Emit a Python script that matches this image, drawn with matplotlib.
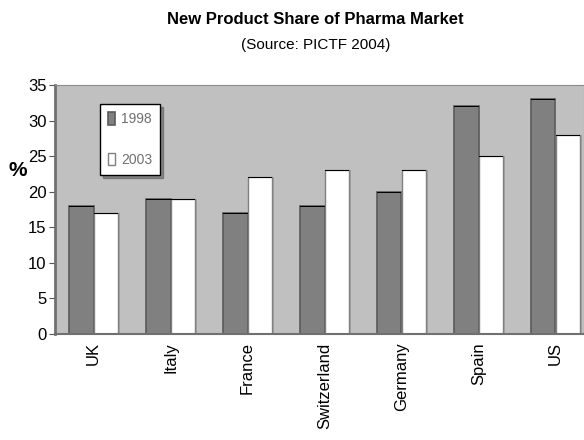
import matplotlib

matplotlib.use("Agg")
import matplotlib.pyplot as plt
import numpy as np

countries = ["UK", "Italy", "France", "Switzerland", "Germany", "Spain", "US"]
share_1998 = [18, 19, 17, 18, 20, 32, 33]
share_2003 = [17, 19, 22, 23, 23, 25, 28]
years = ["1998", "2003"]

plt.rcParams["font.family"] = ["Liberation Sans", "DejaVu Sans"]

fig = plt.figure(figsize=(5.84, 4.40), dpi=100)
ax = fig.add_axes([55 / 584, 1 - 334 / 440, 1 - 55 / 584, (334 - 85) / 440])
ax.set_facecolor("#c0c0c0")

x = np.arange(len(countries))
w = 0.32
# shadows behind the white bars
ax.bar(x + w / 2 + 0.03, share_2003, w, color="#a6a6a6", zorder=1)
ax.bar(x - w / 2, share_1998, w, color="#808080", edgecolor="#5a5a5a",
       linewidth=1.2, zorder=2, label=years[0])
ax.bar(x + w / 2, share_2003, w, color="white", edgecolor="#808080",
       linewidth=1.0, zorder=2, label=years[1])
# thin black top lines like the original rendering
ax.bar(x - w / 2, [0.14] * len(x), w, bottom=np.array(share_1998) - 0.14,
       color="black", zorder=3)
ax.bar(x + w / 2, [0.14] * len(x), w, bottom=np.array(share_2003) - 0.14,
       color="black", zorder=3)

ax.set_xlim(-0.5, 6.5 - 10 / 77)
ax.set_ylim(0, 35)
ax.set_yticks(range(0, 36, 5))
ax.tick_params(axis="y", labelsize=12, length=4, color="#555555", pad=2)
ax.set_xticks(x)
ax.set_xticklabels(countries, rotation=90, fontsize=12)
ax.tick_params(axis="x", length=0, pad=6)
for s in ["top", "right"]:
    ax.spines[s].set_color("#8c8c8c")
ax.spines["left"].set_color("#707070")
ax.spines["left"].set_linewidth(2)
ax.spines["bottom"].set_color("#707070")
ax.spines["bottom"].set_linewidth(1.5)

ax.set_ylabel("%", rotation=0, fontsize=15, fontweight="bold", labelpad=4)
ax.yaxis.set_label_coords(-0.07, 0.62)

leg = ax.legend(loc="upper left", bbox_to_anchor=(38 / 529, 1 - 12 / 249),
                fontsize=10, frameon=True, fancybox=False, edgecolor="black",
                handlelength=0.5, handleheight=1.0, borderpad=0.6,
                labelspacing=1.9, handletextpad=0.4, shadow=True)
leg.get_frame().set_linewidth(1.0)
for t in leg.get_texts():
    t.set_color("#707070")

fig.text(0.54, 0.955, "New Product Share of Pharma Market", ha="center",
         va="center", fontsize=12, fontweight="heavy")
fig.text(0.54, 0.897, "(Source: PICTF 2004)", ha="center", va="center",
         fontsize=11)

fig.savefig("out.png", dpi=100)
